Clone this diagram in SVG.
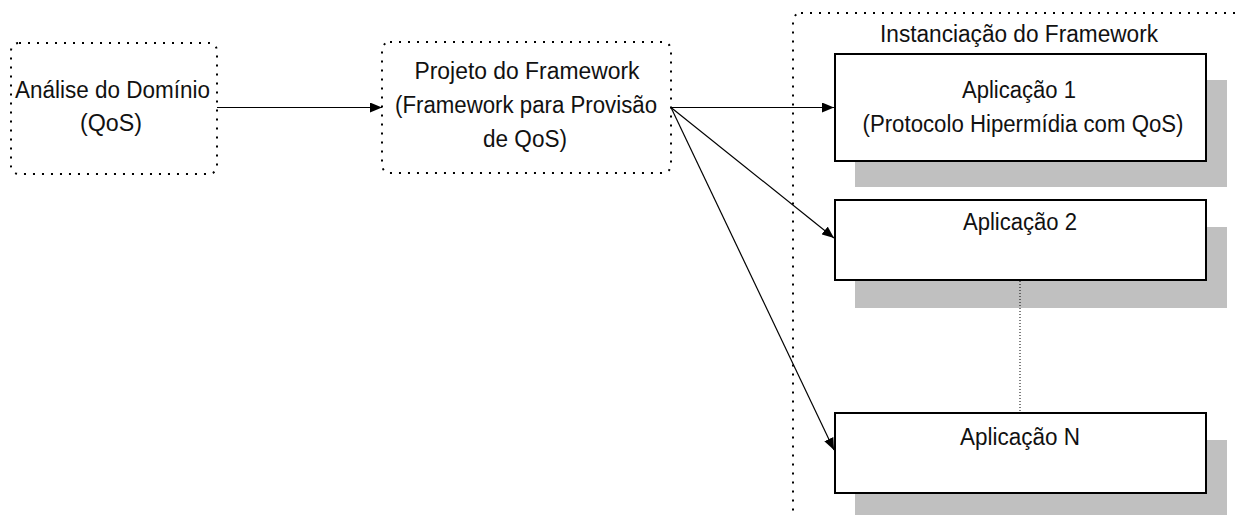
<svg xmlns="http://www.w3.org/2000/svg" width="1239" height="515" viewBox="0 0 1239 515">
  <defs>
    <marker id="arrow" viewBox="0 0 12 10" refX="12" refY="5" markerWidth="12" markerHeight="10" markerUnits="userSpaceOnUse" orient="auto">
      <path d="M0,0 L12,5 L0,10 Z" fill="#000"/>
    </marker>
    <style>
      .dotted { fill: none; stroke: #000; stroke-width: 2; stroke-dasharray: 2 7; }
      .box { fill: #fff; stroke: #000; stroke-width: 2; }
      .shadow { fill: #c0c0c0; }
      .lbl { font-family: "Liberation Sans", Arial, sans-serif; font-size: 23px; fill: #111; text-anchor: middle; }
      .edge { fill: none; stroke: #000; stroke-width: 1.2; marker-end: url(#arrow); }
      .link { fill: none; stroke: #000; stroke-width: 1; stroke-dasharray: 1 2; }
    </style>
  </defs>

  <!-- framework instantiation area -->
  <g id="instanciacao">
    <rect class="dotted" x="793" y="13" width="520" height="512" rx="8"/>
    <text class="lbl" x="1019" y="42" textLength="278" lengthAdjust="spacingAndGlyphs">Instanciação do Framework</text>
  </g>

  <g id="analise">
    <rect class="dotted" x="11" y="43" width="206" height="131" rx="8"/>
    <text class="lbl" x="112.5" y="98" textLength="195" lengthAdjust="spacingAndGlyphs">Análise do Domínio</text>
    <text class="lbl" x="111" y="131" textLength="62" lengthAdjust="spacingAndGlyphs">(QoS)</text>
  </g>

  <g id="projeto">
    <rect class="dotted" x="382" y="42" width="289" height="131" rx="8"/>
    <text class="lbl" x="527" y="79" textLength="225" lengthAdjust="spacingAndGlyphs">Projeto do Framework</text>
    <text class="lbl" x="526" y="113" textLength="262" lengthAdjust="spacingAndGlyphs">(Framework para Provisão</text>
    <text class="lbl" x="525" y="147" textLength="84" lengthAdjust="spacingAndGlyphs">de QoS)</text>
  </g>

  <g id="aplicacao1">
    <rect class="shadow" x="855" y="80" width="372" height="107"/>
    <rect class="box" x="835" y="54" width="371" height="107"/>
    <text class="lbl" x="1019" y="98" textLength="114" lengthAdjust="spacingAndGlyphs">Aplicação 1</text>
    <text class="lbl" x="1023" y="132" textLength="321" lengthAdjust="spacingAndGlyphs">(Protocolo Hipermídia com QoS)</text>
  </g>

  <g id="aplicacao2">
    <rect class="shadow" x="855" y="227" width="372" height="81"/>
    <rect class="box" x="835" y="200" width="371" height="80"/>
    <text class="lbl" x="1020" y="230" textLength="114" lengthAdjust="spacingAndGlyphs">Aplicação 2</text>
  </g>

  <g id="aplicacaoN">
    <rect class="shadow" x="855" y="440" width="372" height="80"/>
    <rect class="box" x="835" y="413" width="371" height="80"/>
    <text class="lbl" x="1020" y="445" textLength="120" lengthAdjust="spacingAndGlyphs">Aplicação N</text>
  </g>

  <g id="connectors">
    <line class="edge" x1="217" y1="107.5" x2="382" y2="107.5"/>
    <line class="edge" x1="671" y1="107.5" x2="834" y2="107.5"/>
    <line class="edge" x1="671" y1="107.5" x2="834" y2="238"/>
    <line class="edge" x1="671" y1="107.5" x2="834" y2="450"/>
    <line class="link" x1="1020" y1="281" x2="1020" y2="412"/>
  </g>
</svg>
